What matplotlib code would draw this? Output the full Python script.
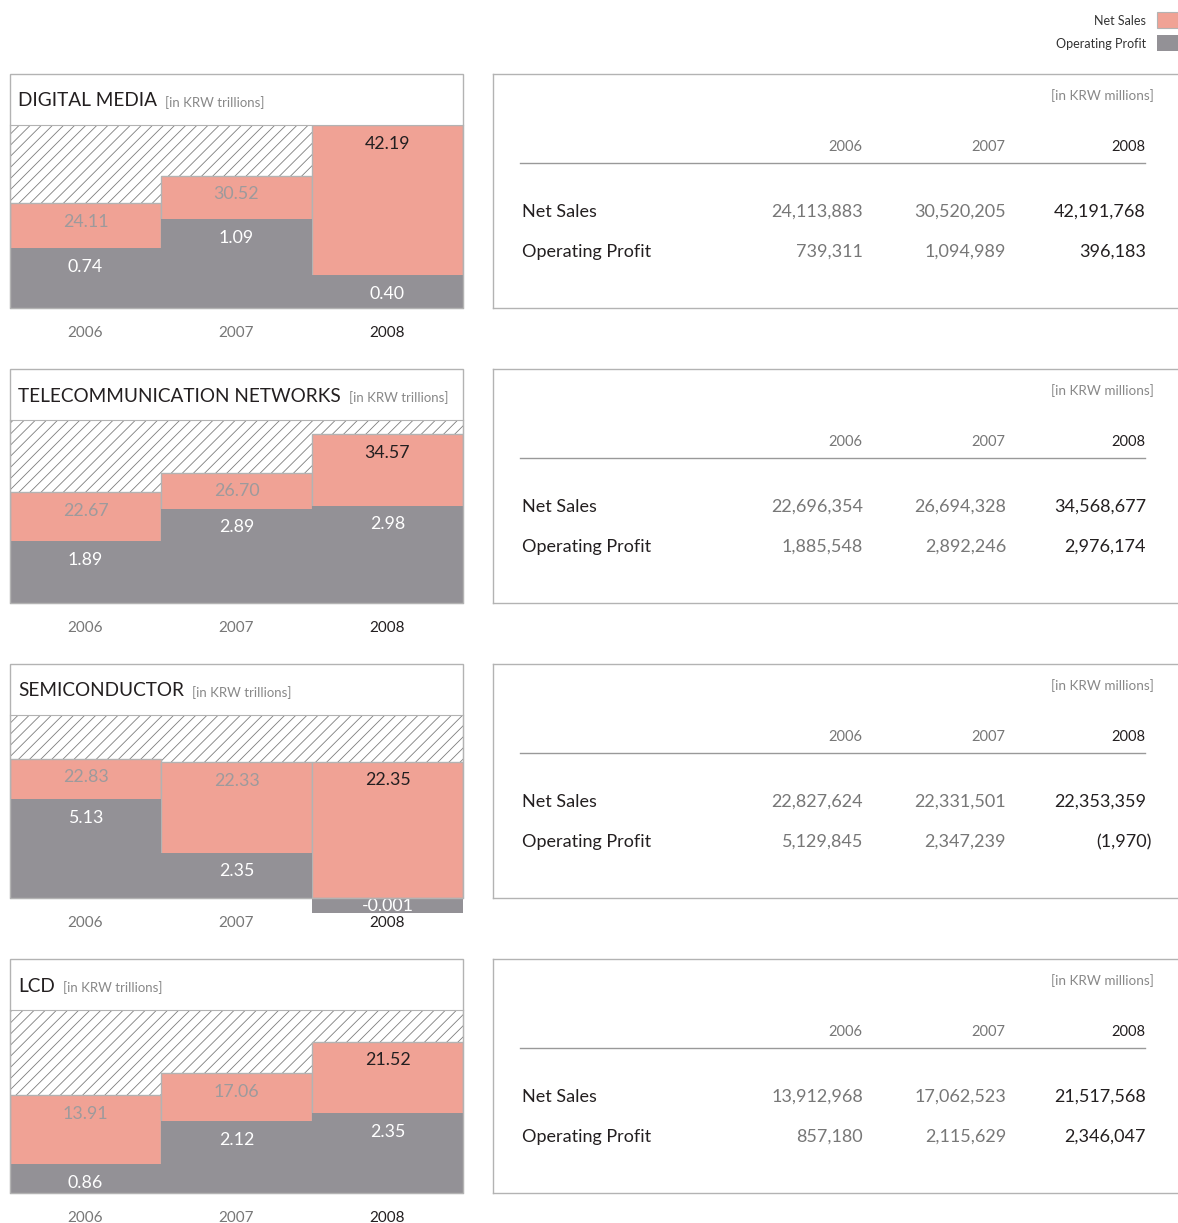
import matplotlib
matplotlib.use("Agg")
import matplotlib.pyplot as plt
from matplotlib.patches import Rectangle
from matplotlib.lines import Line2D

plt.rcParams['font.family'] = ['Lato', 'DejaVu Sans']
plt.rcParams['hatch.linewidth'] = 0.6

W, H = 1178, 1223

# ---- data ----
years = ["2006", "2007", "2008"]
segments = ["DIGITAL MEDIA", "TELECOMMUNICATION NETWORKS", "SEMICONDUCTOR", "LCD"]

# bar values (KRW trillions)
dm_sales = [24.11, 30.52, 42.19]
dm_profit = [0.74, 1.09, 0.40]
tn_sales = [22.67, 26.70, 34.57]
tn_profit = [1.89, 2.89, 2.98]
semi_sales = [22.83, 22.33, 22.35]
semi_profit = [5.13, 2.35, -0.001]
lcd_sales = [13.91, 17.06, 21.52]
lcd_profit = [0.86, 2.12, 2.35]

# table values (KRW millions)
dm_sales_tbl = ["24,113,883", "30,520,205", "42,191,768"]
dm_profit_tbl = ["739,311", "1,094,989", "396,183"]
tn_sales_tbl = ["22,696,354", "26,694,328", "34,568,677"]
tn_profit_tbl = ["1,885,548", "2,892,246", "2,976,174"]
semi_sales_tbl = ["22,827,624", "22,331,501", "22,353,359"]
semi_profit_tbl = ["5,129,845", "2,347,239", "(1,970)"]
lcd_sales_tbl = ["13,912,968", "17,062,523", "21,517,568"]
lcd_profit_tbl = ["857,180", "2,115,629", "2,346,047"]

sales_all = [dm_sales, tn_sales, semi_sales, lcd_sales]
profit_all = [dm_profit, tn_profit, semi_profit, lcd_profit]
sales_tbl_all = [dm_sales_tbl, tn_sales_tbl, semi_sales_tbl, lcd_sales_tbl]
profit_tbl_all = [dm_profit_tbl, tn_profit_tbl, semi_profit_tbl, lcd_profit_tbl]

# axis scales per panel (sales axis top, profit axis top)
sales_top = [42.19, 37.5, 30.0, 26.0]
profit_top = [2.25, 5.6, 9.5, 5.4]

PINK = "#f0a295"
GREY = "#939196"
EDGE = "#b3b3b3"
DARK = "#231f20"
LIGHT = "#9d9a9c"
MIN_FRAC = 0.082  # smallest visible bar, as a share of the axis height


def fx(px):
    return px / W


def fy(py):
    return 1 - py / H


fig = plt.figure(figsize=(W / 100, H / 100), dpi=100)

# legend, top right
fig.text(fx(1146), fy(21), "Net Sales", ha="right", va="center", fontsize=9, color="#333333")
fig.text(fx(1146), fy(44), "Operating Profit", ha="right", va="center", fontsize=9, color="#333333")
fig.patches.append(Rectangle((fx(1157), fy(28)), fx(21), 16 / H, transform=fig.transFigure,
                             facecolor=PINK, edgecolor=EDGE, lw=0.8))
fig.patches.append(Rectangle((fx(1157), fy(51)), fx(21), 16 / H, transform=fig.transFigure,
                             facecolor=GREY, edgecolor="none"))

for i, name in enumerate(segments):
    dy = 295 * i
    sales = sales_all[i]
    profit = profit_all[i]

    # outer frame with title strip
    fig.patches.append(Rectangle((fx(10), fy(308 + dy)), fx(453), 234 / H, transform=fig.transFigure,
                                 facecolor="none", edgecolor=EDGE, lw=1))
    t = fig.text(fx(18), fy(101 + dy), name, ha="left", va="center", fontsize=13.7, color=DARK)
    fig.canvas.draw()
    bb = t.get_window_extent()
    fig.text(bb.x1 / W + fx(8), fy(103 + dy), "[in KRW trillions]", ha="left", va="center",
             fontsize=9.5, color="#888888")

    # bar area
    ax = fig.add_axes([fx(10), fy(308 + dy), fx(453), 183 / H])
    ax.add_patch(Rectangle((0, 0), 1, 1, transform=ax.transAxes, facecolor="white",
                           edgecolor="#7d7d7d", hatch="///", lw=0, zorder=0))
    x = range(len(years))
    ax.bar(x, sales, width=1.0, color=PINK, edgecolor=EDGE, lw=1, zorder=2)
    ax.set_xlim(-0.5, 2.5)
    ax.set_ylim(0, sales_top[i])
    ax.set_yticks([])
    ax.set_xticks(list(x))
    ax.set_xticklabels(years, fontsize=11)
    ax.tick_params(axis="x", length=0, pad=13)
    for j, lab in enumerate(ax.get_xticklabels()):
        lab.set_color(DARK if j == 2 else "#777777")
    for s in ax.spines.values():
        s.set_color(EDGE)

    ax2 = ax.twinx()
    ax2.set_ylim(0, profit_top[i])
    min_h = MIN_FRAC * profit_top[i]
    heights = [v if abs(v) >= min_h or v > 0 else -min_h for v in profit]
    ax2.bar(x, heights, width=1.0, color=GREY, edgecolor="none", zorder=3, clip_on=False)
    ax2.set_yticks([])
    for s in ax2.spines.values():
        s.set_visible(False)

    for j in x:
        ax.annotate(f"{sales[j]:.2f}", (j, sales[j]), xytext=(0, -13.5), textcoords="offset points",
                    ha="center", va="center", fontsize=12.8,
                    color=DARK if j == 2 else LIGHT, zorder=5)
        if profit[j] >= 0:
            ax2.annotate(f"{profit[j]:.2f}", (j, profit[j]), xytext=(0, -13.5), textcoords="offset points",
                         ha="center", va="center", fontsize=12.8, color="white", zorder=5)
        else:
            ax2.annotate(f"{profit[j]:g}", (j, heights[j] / 2), ha="center", va="center",
                         fontsize=12.8, color="white", zorder=5, annotation_clip=False)

    # table box (open on the right)
    for (x0, y0, x1, y1) in [(493, 74, 1178, 74), (493, 308, 1178, 308), (493, 74, 493, 308)]:
        fig.lines.append(Line2D([fx(x0), fx(x1)], [fy(y0 + dy), fy(y1 + dy)], transform=fig.transFigure,
                                color=EDGE, lw=1))
    fig.text(fx(1154), fy(96 + dy), "[in KRW millions]", ha="right", va="center", fontsize=9.7, color="#888888")
    col_x = [862, 1005, 1145]
    for j, yr in enumerate(years):
        fig.text(fx(col_x[j]), fy(147 + dy), yr, ha="right", va="center", fontsize=10.5,
                 color=DARK if j == 2 else "#777777")
    fig.lines.append(Line2D([fx(520), fx(1145)], [fy(163 + dy), fy(163 + dy)], transform=fig.transFigure,
                            color="#999999", lw=1))
    rows = [("Net Sales", sales_tbl_all[i], 212), ("Operating Profit", profit_tbl_all[i], 252)]
    for label, vals, ry in rows:
        fig.text(fx(522), fy(ry + dy), label, ha="left", va="center", fontsize=13, color=DARK)
        for j, v in enumerate(vals):
            xx = col_x[j] + 1 + (6 if v.endswith(")") else 0)
            fig.text(fx(xx), fy(ry + dy), v, ha="right", va="center", fontsize=13,
                     color=DARK if j == 2 else "#777777")

fig.savefig("out.png", dpi=100)
